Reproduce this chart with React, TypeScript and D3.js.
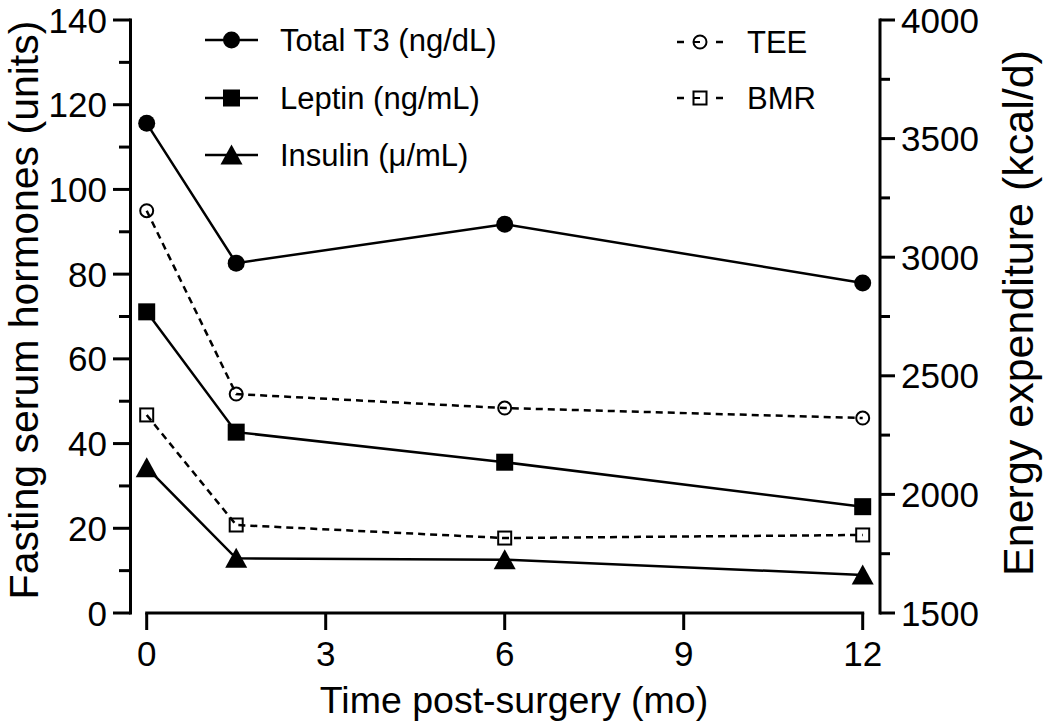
import React from "react";
import * as d3 from "d3";

const months = [0, 1.5, 6, 12];
const totalT3 = [115.6, 82.6, 91.8, 77.9];
const leptin = [71.1, 42.7, 35.6, 25.1];
const insulin = [34.3, 12.9, 12.6, 9.0];
const tee = [3196, 2423, 2364, 2322];
const bmr = [2335, 1871, 1816, 1829];

const xTicks = [0, 3, 6, 9, 12];
const leftTicks = [0, 20, 40, 60, 80, 100, 120, 140];
const leftMinor = [10, 30, 50, 70, 90, 110, 130];
const rightTicks = [1500, 2000, 2500, 3000, 3500, 4000];
const rightMinor = [1750, 2250, 2750, 3250, 3750];

const leftLegend = ["Total T3 (ng/dL)", "Leptin (ng/mL)", "Insulin (\u03bc/mL)"];
const rightLegend = ["TEE", "BMR"];

const FONT = "'Liberation Sans', Arial, Helvetica, sans-serif";

type Shape = "circle" | "square" | "triangle" | "ocircle" | "osquare";

function Marker({ shape, x, y }: { shape: Shape; x: number; y: number }) {
  if (shape === "circle") return <circle cx={x} cy={y} r={8.5} fill="#000" />;
  if (shape === "square") return <rect x={x - 8.5} y={y - 8.5} width={17} height={17} fill="#000" />;
  if (shape === "triangle")
    return <path d={`M${x},${y - 10.5}L${x + 11},${y + 9.5}L${x - 11},${y + 9.5}Z`} fill="#000" />;
  if (shape === "ocircle")
    return <circle cx={x} cy={y} r={6.5} fill="none" stroke="#000" strokeWidth={2} />;
  return <rect x={x - 6.5} y={y - 6.5} width={13} height={13} fill="none" stroke="#000" strokeWidth={2} />;
}

export default function App() {
  const x = d3.scaleLinear().domain([0, 12]).range([146.7, 862.7]);
  const yL = d3.scaleLinear().domain([0, 140]).range([613, 20]);
  const yR = d3.scaleLinear().domain([1500, 4000]).range([613, 20]);

  const lineL = d3.line<number>().x((_, i) => x(months[i])).y((d) => yL(d));
  const lineR = d3.line<number>().x((_, i) => x(months[i])).y((d) => yR(d));

  const solidSeries: { data: number[]; shape: Shape }[] = [
    { data: totalT3, shape: "circle" },
    { data: leptin, shape: "square" },
    { data: insulin, shape: "triangle" },
  ];
  const dashedSeries: { data: number[]; shape: Shape }[] = [
    { data: tee, shape: "ocircle" },
    { data: bmr, shape: "osquare" },
  ];

  const legendRowsL = [40, 98, 155];
  const legendRowsR = [42, 98];

  return (
    <svg
      width={1050}
      height={725}
      style={{ position: "absolute", left: 0, top: 0, background: "#fff" }}
      fontFamily={FONT}
    >
      <rect width={1050} height={725} fill="#fff" />
      {/* Left axis */}
      <line x1={130.5} x2={130.5} y1={yL(140) - 1.5} y2={yL(0) + 1.5} stroke="#000" strokeWidth={3} />
      {leftTicks.map((t) => (
        <g key={"lt" + t}>
          <line x1={113} x2={130.5} y1={yL(t)} y2={yL(t)} stroke="#000" strokeWidth={3} />
          <text x={107} y={yL(t)} dy="0.36em" textAnchor="end" fontSize={35}>
            {t}
          </text>
        </g>
      ))}
      {leftMinor.map((t) => (
        <line key={"lm" + t} x1={119} x2={130.5} y1={yL(t)} y2={yL(t)} stroke="#000" strokeWidth={3} />
      ))}
      {/* Right axis */}
      <line x1={880} x2={880} y1={yR(4000) - 1.5} y2={yR(1500) + 1.5} stroke="#000" strokeWidth={3} />
      {rightTicks.map((t) => (
        <g key={"rt" + t}>
          <line x1={880} x2={895} y1={yR(t)} y2={yR(t)} stroke="#000" strokeWidth={3} />
          <text x={901} y={yR(t)} dy="0.36em" textAnchor="start" fontSize={35}>
            {t}
          </text>
        </g>
      ))}
      {rightMinor.map((t) => (
        <line key={"rm" + t} x1={880} x2={890} y1={yR(t)} y2={yR(t)} stroke="#000" strokeWidth={3} />
      ))}
      {/* X axis */}
      <line x1={x(0) - 1.5} x2={x(12) + 1.5} y1={613} y2={613} stroke="#000" strokeWidth={3} />
      {xTicks.map((t) => (
        <g key={"xt" + t}>
          <line x1={x(t)} x2={x(t)} y1={613} y2={630} stroke="#000" strokeWidth={3} />
          <text x={x(t)} y={666} textAnchor="middle" fontSize={35}>
            {t}
          </text>
        </g>
      ))}
      {/* Axis titles */}
      <text x={514} y={713} textAnchor="middle" fontSize={37.5}>
        Time post-surgery (mo)
      </text>
      <text transform="translate(38,310) rotate(-90)" textAnchor="middle" fontSize={41}>
        Fasting serum hormones (units)
      </text>
      <text transform="translate(1033,313) rotate(-90)" textAnchor="middle" fontSize={43}>
        Energy expenditure (kcal/d)
      </text>

      {/* Data lines */}
      {dashedSeries.map((s, si) => (
        <g key={"ds" + si}>
          <path d={lineR(s.data) || ""} fill="none" stroke="#000" strokeWidth={2.5} strokeDasharray="7,5" />
          {s.data.map((d, i) => (
            <Marker key={i} shape={s.shape} x={x(months[i])} y={yR(d)} />
          ))}
        </g>
      ))}
      {solidSeries.map((s, si) => (
        <g key={"ss" + si}>
          <path d={lineL(s.data) || ""} fill="none" stroke="#000" strokeWidth={2.5} />
          {s.data.map((d, i) => (
            <Marker key={i} shape={s.shape} x={x(months[i])} y={yL(d)} />
          ))}
        </g>
      ))}

      {/* Left legend */}
      {leftLegend.map((label, i) => (
        <g key={"ll" + i}>
          <line x1={205} x2={258} y1={legendRowsL[i]} y2={legendRowsL[i]} stroke="#000" strokeWidth={2.5} />
          <Marker shape={solidSeries[i].shape} x={231.5} y={legendRowsL[i]} />
          <text x={280} y={legendRowsL[i]} dy="0.36em" fontSize={31}>
            {label}
          </text>
        </g>
      ))}
      {/* Right legend */}
      {rightLegend.map((label, i) => (
        <g key={"rl" + i}>
          <line x1={677} x2={684} y1={legendRowsR[i]} y2={legendRowsR[i]} stroke="#000" strokeWidth={2.5} />
          <line x1={716} x2={723} y1={legendRowsR[i]} y2={legendRowsR[i]} stroke="#000" strokeWidth={2.5} />
          <line x1={693} x2={700} y1={legendRowsR[i]} y2={legendRowsR[i]} stroke="#000" strokeWidth={2} />
          <Marker shape={dashedSeries[i].shape} x={700} y={legendRowsR[i]} />
          <text x={747} y={legendRowsR[i]} dy="0.36em" fontSize={31}>
            {label}
          </text>
        </g>
      ))}
    </svg>
  );
}
